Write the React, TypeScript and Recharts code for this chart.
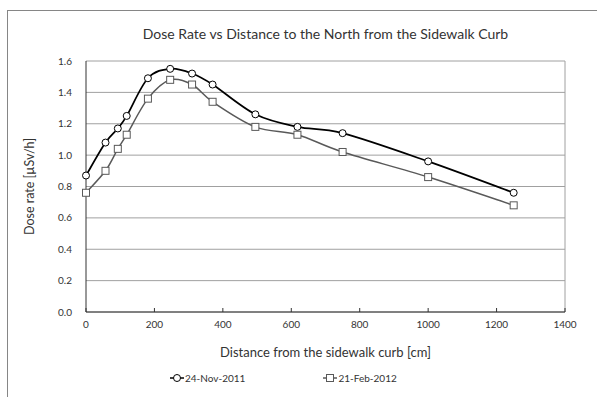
import { LineChart, Line, XAxis, YAxis, CartesianGrid, ReferenceLine, Label } from "recharts";

// distances from the curb [cm] and dose rate readings [µSv/h]
const distance = [0, 57, 93, 119, 181, 246, 310, 370, 495, 618, 750, 1000, 1250];
const nov2011 = [0.87, 1.08, 1.17, 1.25, 1.49, 1.55, 1.52, 1.45, 1.26, 1.18, 1.14, 0.96, 0.76];
const feb2012 = [0.76, 0.9, 1.04, 1.13, 1.36, 1.48, 1.45, 1.34, 1.18, 1.13, 1.02, 0.86, 0.68];

const xTicks = [0, 200, 400, 600, 800, 1000, 1200, 1400];
const yTicks = [0, 0.2, 0.4, 0.6, 0.8, 1.0, 1.2, 1.4, 1.6];

const series = [
  { key: "nov", name: "24-Nov-2011", color: "#000000", marker: "circle" },
  { key: "feb", name: "21-Feb-2012", color: "#595959", marker: "square" },
];

const rows = distance.map((d, i) => ({ d, nov: nov2011[i], feb: feb2012[i] }));

// Excel-like smoothed line (Catmull-Rom as cubic beziers)
function excelSmooth(context: any) {
  let pts: number[][] = [];
  return {
    areaStart() {},
    areaEnd() {},
    lineStart() {
      pts = [];
    },
    point(x: number, y: number) {
      pts.push([+x, +y]);
    },
    lineEnd() {
      if (!pts.length) return;
      context.moveTo(pts[0][0], pts[0][1]);
      const t = 1 / 6;
      for (let i = 0; i < pts.length - 1; i++) {
        const p0 = pts[i - 1] || pts[i];
        const p1 = pts[i];
        const p2 = pts[i + 1];
        const p3 = pts[i + 2] || pts[i + 1];
        context.bezierCurveTo(
          p1[0] + (p2[0] - p0[0]) * t,
          p1[1] + (p2[1] - p0[1]) * t,
          p2[0] - (p3[0] - p1[0]) * t,
          p2[1] - (p3[1] - p1[1]) * t,
          p2[0],
          p2[1]
        );
      }
    },
  };
}

const CircleDot = (p: any) => (
  <circle key={`c${p.index}`} cx={p.cx} cy={p.cy} r={3.5} fill="#fff" stroke="#000" strokeWidth={1} />
);
const SquareDot = (p: any) => (
  <rect key={`s${p.index}`} x={p.cx - 3.5} y={p.cy - 3.5} width={7} height={7} fill="#fff" stroke="#595959" strokeWidth={1} />
);

const X_MARGIN = 9;
const XTick = (p: any) => {
  const axisY = p.y - X_MARGIN;
  return (
    <g>
      <line x1={p.x} x2={p.x} y1={axisY} y2={axisY - 4} stroke="#333" />
      <text x={p.x} y={p.y} dy="0.71em" textAnchor="middle" fontSize={10} fill="#333">
        {p.payload.value}
      </text>
    </g>
  );
};

function LegendIcon({ color, marker }: { color: string; marker: string }) {
  return (
    <svg width={14} height={10} style={{ marginRight: 1 }}>
      <line x1={0} x2={14} y1={5} y2={5} stroke={color} strokeWidth={1.5} />
      {marker === "circle" ? (
        <circle cx={7} cy={5} r={3.5} fill="#fff" stroke={color} />
      ) : (
        <rect x={3.5} y={1.5} width={7} height={7} fill="#fff" stroke={color} />
      )}
    </svg>
  );
}

export default function App() {
  return (
    <div
      style={{
        position: "absolute",
        left: 0,
        top: 0,
        width: 597,
        height: 397,
        overflow: "hidden",
        background: "#fff",
        fontFamily: "Lato, sans-serif",
        color: "#333",
      }}
    >
      <div
        style={{
          position: "absolute",
          left: 7,
          top: 10,
          width: 700,
          height: 500,
          border: "1px solid #868686",
        }}
      />
      <div
        style={{
          position: "absolute",
          left: 0,
          width: 651,
          top: 25,
          textAlign: "center",
          fontSize: 14,
          color: "#333",
        }}
      >
        Dose Rate vs Distance to the North from the Sidewalk Curb
      </div>
      <div style={{ position: "absolute", left: 0, top: 0 }}>
        <LineChart width={597} height={397} data={rows} margin={{ top: 61, right: 32, left: 0, bottom: 0 }}>
          <CartesianGrid vertical={false} stroke="#a0a0a0" />
          <ReferenceLine x={1400} stroke="#a0a0a0" />
          <XAxis
            dataKey="d"
            type="number"
            domain={[0, 1400]}
            ticks={xTicks}
            height={85}
            stroke="#333"
            tickLine={false}
            tickSize={0}
            tickMargin={X_MARGIN}
            tick={<XTick />}
          >
            <Label
              value="Distance from the sidewalk curb [cm]"
              position="insideTop"
              offset={36}
              fontSize={13}
              fill="#333"
            />
          </XAxis>
          <YAxis
            type="number"
            domain={[0, 1.6]}
            ticks={yTicks}
            width={86}
            stroke="#333"
            tickLine={false}
            tickSize={0}
            tickMargin={14}
            tick={{ fontSize: 10, fill: "#333" }}
            tickFormatter={(v: number) => v.toFixed(1)}
          >
            <Label
              value="Dose rate [µSv/h]"
              angle={-90}
              position="insideLeft"
              offset={30}
              fontSize={12.5}
              fill="#333"
              style={{ textAnchor: "middle" }}
            />
          </YAxis>
          <Line
            dataKey="nov"
            name="24-Nov-2011"
            type={excelSmooth as any}
            stroke="#000"
            strokeWidth={1.75}
            dot={CircleDot}
            activeDot={false}
            isAnimationActive={false}
          />
          <Line
            dataKey="feb"
            name="21-Feb-2012"
            type={excelSmooth as any}
            stroke="#595959"
            strokeWidth={1.5}
            dot={SquareDot}
            activeDot={false}
            isAnimationActive={false}
          />
        </LineChart>
      </div>
      <div
        style={{
          position: "absolute",
          left: 170,
          top: 372,
          display: "flex",
          gap: 78,
          fontSize: 10,
          color: "#333",
        }}
      >
        {series.map((s) => (
          <div key={s.key} style={{ display: "flex", alignItems: "center" }}>
            <LegendIcon color={s.color} marker={s.marker} />
            <span>{s.name}</span>
          </div>
        ))}
      </div>
    </div>
  );
}
